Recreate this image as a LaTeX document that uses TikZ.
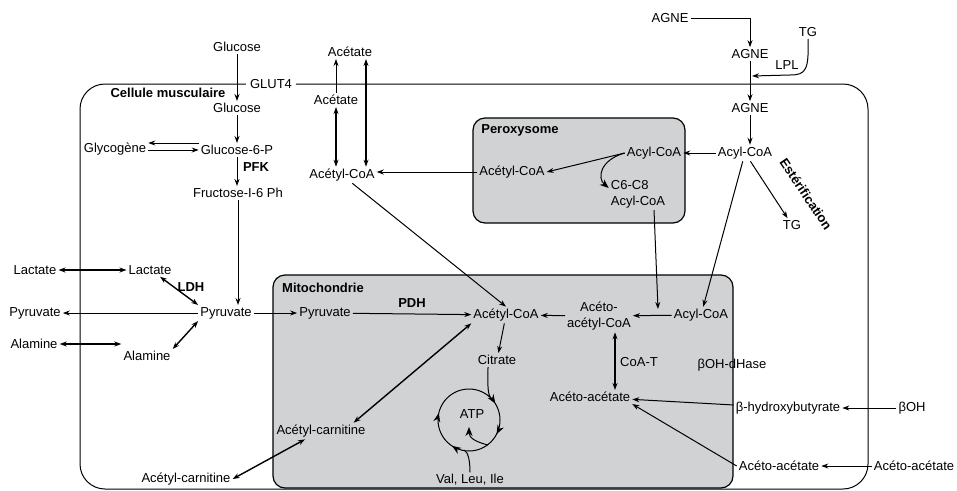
\documentclass[tikz,border=0pt]{standalone}
\usepackage{fontspec}
\setmainfont{Liberation Sans}
\usetikzlibrary{arrows.meta,positioning,decorations.markings}
\definecolor{organgray}{RGB}{209,210,212}

\begin{document}
\begin{tikzpicture}[x=1pt, y=-1pt, font=\fontsize{13}{16}\selectfont, >={Stealth[length=7pt,width=5pt]}]
		\tikzstyle{Metab} 	= [inner sep=2pt]
		\tikzstyle{Enz}		= [inner sep=1pt, font=\fontsize{13}{16}\selectfont\bfseries]
		\tikzstyle{Organelle}	= [draw, line width=1.2pt, fill=organgray, rounded corners=12pt]
		\tikzstyle{Flow}		= [->, line width=1pt]
		\tikzstyle{Both}		= [<->, line width=1.4pt]
		\tikzstyle{Big}		= [-{Stealth[length=9pt,width=7pt]}, line width=1pt]
		\tikzstyle{Cycle}		= [line width=1pt, postaction={decorate}, decoration={markings,
			mark=at position 0.075 with {\arrow{Stealth[length=9pt,width=7pt]}},
			mark=at position 0.342 with {\arrow{Stealth[length=9pt,width=7pt]}},
			mark=at position 0.536 with {\arrow{Stealth[length=9pt,width=7pt]}},
			mark=at position 0.911 with {\arrow{Stealth[length=9pt,width=7pt]}}}]

		\useasboundingbox (0,0) rectangle (957,490);

		% cell and organelles
		\draw [line width=1pt, rounded corners=25pt] (80,84) rectangle (868,489);
		\draw [Organelle] (273,275) rectangle (733,488);
		\draw [Organelle] (473,118) rectangle (685,223);

		\node (cell) at (168,93) [Enz] {Cellule musculaire};
		\node (mito) at (323,288) [Enz] {Mitochondrie};
		\node (perox) at (520,130) [Enz] {Peroxysome};

		% glycolysis
		\node (glc0) at (237,47) [Metab] {Glucose};
		\node (glut) at (271,84) [Metab, fill=white, inner xsep=4pt] {GLUT4};
		\node (glc1) at (237,108) [Metab] {Glucose};
		\node (gly) at (115,149) [Metab] {Glycogène};
		\node (g6p) at (237,150) [Metab] {Glucose-6-P};
		\node (pfk) at (256,167) [Enz] {PFK};
		\node (f16) at (238,193) [Metab] {Fructose-I-6 Ph};
		\node (lac0) at (35,270) [Metab] {Lactate};
		\node (lac1) at (150,270) [Metab] {Lactate};
		\node (ldh) at (191,287) [Enz] {LDH};
		\node (pyr0) at (35,313) [Metab] {Pyruvate};
		\node (pyr) at (226,313) [Metab] {Pyruvate};
		\node (ala0) at (34,344) [Metab] {Alamine};
		\node (ala1) at (147,356) [Metab] {Alamine};

		% mitochondrie
		\node (mpyr) at (325,313) [Metab] {Pyruvate};
		\node (pdh) at (412,303) [Enz] {PDH};
		\node (macoa) at (506,315) [Metab] {Acétyl-CoA};
		\node (cit) at (497,360) [Metab] {Citrate};
		\node (atp) at (472,414) [Metab] {ATP};
		\node (val) at (470,480) [Metab] {Val, Leu, Ile};
		\node (macar) at (321,431) [Metab] {Acétyl-carnitine};
		\node (car0) at (186,479) [Metab] {Acétyl-carnitine};
		\node (macyl) at (701,315) [Metab] {Acyl-CoA};
		\node (aaco) at (599,316) [Metab, align=center] {Acéto-\\acétyl-CoA};
		\node (coat) at (639,362) [Metab] {CoA-T};
		\node (aa) at (590,397) [Metab] {Acéto-acétate};
		\node (bdh) at (732,365) [Metab] {βOH-dHase};

		% acetate
		\node (ac0) at (350,52) [Metab] {Acétate};
		\node (ac1) at (336,100) [Metab] {Acétate};
		\node (acoa) at (342,175) [Metab] {Acétyl-CoA};

		% peroxysome and fatty acids
		\node (pacyl) at (654,153) [Metab] {Acyl-CoA};
		\node (pacoa) at (512,172) [Metab] {Acétyl-CoA};
		\node (c6) at (638,194) [Metab, align=left] {C6-C8\\Acyl-CoA};
		\node (agne0) at (670,18) [Metab] {AGNE};
		\node (tg0) at (808,32) [Metab] {TG};
		\node (agne1) at (750,54) [Metab] {AGNE};
		\node (lpl) at (787,65) [Metab] {LPL};
		\node (agne2) at (750,108) [Metab] {AGNE};
		\node (acyl) at (745,153) [Metab] {Acyl-CoA};
		\node (tg1) at (792,225) [Metab] {TG};
		\node (ester) at (806,194) [Enz, rotate=-56] {Estérification};

		% ketone bodies
		\node (bhb) at (788,408) [Metab] {β-hydroxybutyrate};
		\node (boh) at (912,408) [Metab] {βOH};
		\node (aac) at (779,466) [Metab] {Acéto-acétate};
		\node (aa0) at (914,466) [Metab] {Acéto-acétate};

		\coordinate (lplin) at (752,76);
		\coordinate (jn) at (658,309);
		\coordinate (cyc) at (469,420);
		\coordinate (cycin) at (491,398);
		\coordinate (cycout) at (488,445);
		\coordinate (cycbot) at (464,450);
		\coordinate (atpin) at (469,427);

		\draw [Flow] (glc0) to (glc1);
		\draw [Flow] (glc1) to (g6p);
		\draw [Flow] ([yshift=7pt]g6p.west) to ([yshift=7pt]g6p.west -| gly.east);
		\draw [Flow] ([yshift=-1pt]gly.east) to ([yshift=-1pt]gly.east -| g6p.west);
		\draw [Flow] (g6p) to (g6p |- f16.north);
		\draw [Flow] (f16) to (f16 |- pyr.north);
		\draw [Both] (lac0) to (lac1);
		\draw [Both] ([xshift=10pt]lac1.south) to (pyr.north west);
		\draw [Flow] (pyr) to (pyr0);
		\draw [Both] (ala0) to (ala0 -| ala1.west);
		\draw [Both] (ala1.north east) to (pyr.south west);
		\draw [Flow] (pyr) to (mpyr);
		\draw [Flow] (mpyr) to (macoa);
		\draw [Flow] (macoa) to (cit);
		\draw [Both] (macoa.south west) to ([xshift=-14pt]macar.north east);
		\draw [Both] (car0.east) to ([xshift=-16pt]macar.south);

		\draw [Flow] (ac1) to (ac1 |- ac0.south);
		\draw [Both] (ac1) to (ac1 |- acoa.north);
		\draw [Both] ([xshift=16pt]ac0.south) to ([xshift=24pt]acoa.north);
		\draw [Flow] (pacoa.west) to (pacoa.west -| acoa.east);
		\draw [Flow] (acoa) to (macoa.north);

		\draw [Flow] (agne0) -| (agne1);
		\draw [Flow] (tg0.south) .. controls (809,70) and (806,75) .. (790,75) -- (lplin);
		\draw [Flow] (agne1) to (agne2);
		\draw [Flow] (agne2) to (agne2 |- acyl.north);
		\draw [Flow] (acyl) to (pacyl);
		\draw [Flow] (pacyl.west) to (pacoa.east);
		\draw [Big] (pacyl.west) .. controls (600,160) and (597,178) .. ([yshift=6pt]c6.west);
		\draw [Flow] (acyl) to (tg1);
		\draw [Flow] (acyl) to (macyl);
		\draw [Flow] ([xshift=16pt]c6.south) to (jn);
		\draw [Flow] (macyl) to (aaco);
		\draw [Flow] (aaco) to (macoa);
		\draw [Both] ([xshift=16pt]aaco.south) to ([xshift=25pt]aa.north);

		\draw [Flow] (boh) to (bhb);
		\draw [Flow] (bhb) to (aa);
		\draw [Flow] (aa0) to (aac);
		\draw [Flow] (aac.west) to (aa.south east);

		% ATP cycle
		\draw [Cycle] (cyc) circle [radius=31];
		\draw [line width=1pt] ([xshift=-9pt]cit.south) .. controls (488,382) and (487,394) .. (cycin);
		\draw [Big] (cycout) .. controls (476,442) and (469,438) .. (atpin);
		\draw [line width=1pt] (val.north) .. controls (470,460) and (468,452) .. (cycbot);
\end{tikzpicture}
\end{document}
